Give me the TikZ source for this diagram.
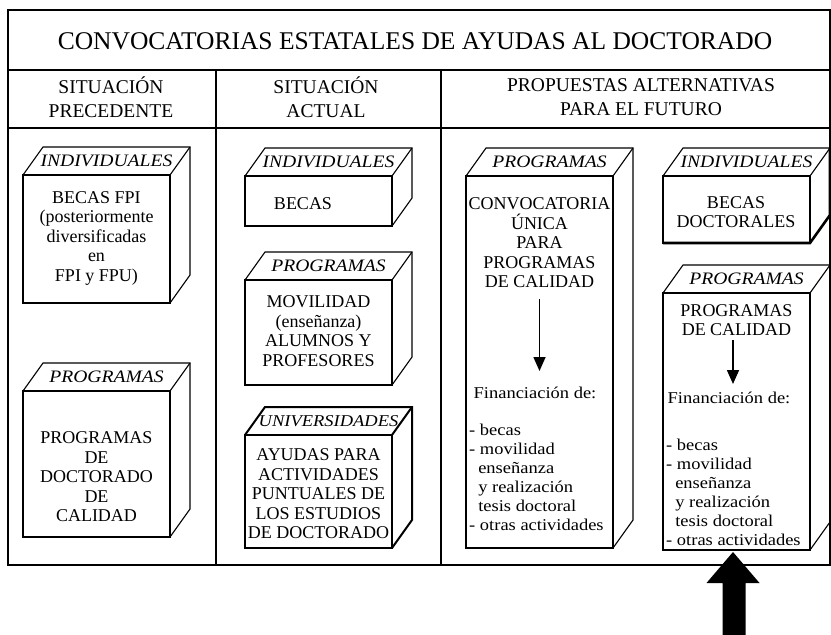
\documentclass[tikz,border=0pt]{standalone}
\usepackage{fontspec}
\setmainfont{Liberation Serif}
\newfontfamily\widefont[FakeStretch=1.12]{Liberation Serif}
\usetikzlibrary{calc,arrows.meta}
\newcommand{\dpx}{20}
\newcommand{\dpy}{28}
\newcommand{\cubebox}[7]{%
  \node[front,#7,minimum width=#4pt,minimum height=#5pt,anchor=north west] (#1) at (#2,#3) {};
  \draw[facestyle,#7] (#1.north west) -- ++(\dpx,-\dpy) -- ++(#4,0) -- ++(0,#5) -- (#1.south east);
  \draw[facestyle,#7] (#1.north east) -- ++(\dpx,-\dpy);
  \node[lbl] (#1-lbl) at ($(#1.north)+(\dpx/2,-\dpy/2)$) {#6};
}
\begin{document}
\begin{tikzpicture}[x=1pt,y=-1pt,
  front/.style={draw, line width=1.1pt, fill=white, inner sep=0pt, outer sep=0pt},
  facestyle/.style={line width=1.1pt, line join=miter},
  lbl/.style={font=\widefont\fontsize{17.5}{19}\selectfont\itshape, inner sep=0pt},
  boxtext/.style={font=\fontsize{18}{19.5}\selectfont, align=center, inner sep=0pt},
  smalltext/.style={font=\widefont\fontsize{16.5}{19}\selectfont, align=left, inner sep=0pt},
  fintext/.style={font=\widefont\fontsize{16.5}{19}\selectfont, inner sep=0pt},
  headtext/.style={font=\fontsize{19.5}{24}\selectfont, align=center, inner sep=0pt},
  titletext/.style={font=\fontsize{25.5}{28}\selectfont, inner sep=0pt},
  frameline/.style={line width=1.5pt},
  sepline/.style={line width=2.5pt},
  thickedge/.style={line width=2.6pt},
  thinarrow/.style={line width=1.6pt, -{Triangle[width=12pt,length=14pt]}},
]
\useasboundingbox (0,0) rectangle (831,635);
% frame and table lines
\draw[frameline] (8,10) rectangle (830,565);
\draw[frameline] (8,70) -- (830,70);
\draw[sepline] (8,128) -- (830,128);
\draw[sepline] (216,70) -- (216,565);
\draw[sepline] (441,70) -- (441,565);
% title and headers
\node[titletext] (title) at (415,41) {CONVOCATORIAS ESTATALES DE AYUDAS AL DOCTORADO};
\node[headtext] (h1) at (111,97) {SITUACIÓN\\PRECEDENTE};
\node[headtext] (h2) at (326,97) {SITUACIÓN\\ACTUAL};
\node[headtext] (h3) at (641,97) {PROPUESTAS ALTERNATIVAS\\PARA EL FUTURO};
% column 1
\cubebox{b1}{23}{175}{147}{128}{INDIVIDUALES}{}
\node[boxtext] (b1t) at (96.5,238) {BECAS FPI\\(posteriormente\\diversificadas\\en\\FPI y FPU)};
\cubebox{b2}{23}{391}{147}{146}{PROGRAMAS}{}
\node[boxtext] (b2t) at (96.5,477) {PROGRAMAS\\DE\\DOCTORADO\\DE\\CALIDAD};
% column 2
\cubebox{c1}{245}{176}{147}{50}{INDIVIDUALES}{}
\node[boxtext] (c1t) at (303,204) {BECAS};
\cubebox{c2}{245}{280}{147}{105}{PROGRAMAS}{}
\node[boxtext] (c2t) at (318.5,331) {MOVILIDAD\\(enseñanza)\\ALUMNOS Y\\PROFESORES};
\cubebox{c3}{245}{435}{147}{113}{\fontsize{16.5}{19}\selectfont UNIVERSIDADES}{line width=2pt}
\node[boxtext] (c3t) at (318.5,494) {AYUDAS PARA\\ACTIVIDADES\\PUNTUALES DE\\LOS ESTUDIOS\\DE DOCTORADO};
% column 3, left
\cubebox{dA}{466}{176}{147}{372}{PROGRAMAS}{}
\node[boxtext] (dAt) at (539.5,243) {CONVOCATORIA\\ÚNICA\\PARA\\PROGRAMAS\\DE CALIDAD};
\node[fintext] (dAf) at (535,393) {Financiación de:};
\coordinate (dAa) at (539.5,299);
\coordinate (dAb) at (539.5,371);
\draw[thinarrow] (dAa) -- (dAb);
\node[smalltext, anchor=west] (dAl) at (469,477) {- becas\\- movilidad\\\hspace*{0.55em}enseñanza\\\hspace*{0.55em}y realización\\\hspace*{0.55em}tesis doctoral\\- otras actividades};
% column 3, right
\cubebox{dB}{663}{176}{147}{67}{INDIVIDUALES}{}
\draw[thickedge] (dB.north east) ++(\dpx,-\dpy) -- ++(0,67) -- (dB.south east) -- (dB.south west);
\node[boxtext] (dBt) at (736,212) {BECAS\\DOCTORALES};
\cubebox{dC}{663}{293}{147}{257}{PROGRAMAS}{}
\draw[thickedge] (dC.north east) ++(\dpx,-\dpy) -- ++(0,257);
\node[boxtext] (dCt) at (736.5,320) {PROGRAMAS\\DE CALIDAD};
\node[fintext] (dCf) at (729,398) {Financiación de:};
\coordinate (dCa) at (733,340);
\coordinate (dCb) at (733,384);
\draw[thinarrow] (dCa) -- (dCb);
\node[smalltext, anchor=west] (dCl) at (666,492) {- becas\\- movilidad\\\hspace*{0.55em}enseñanza\\\hspace*{0.55em}y realización\\\hspace*{0.55em}tesis doctoral\\- otras actividades};
% big arrow pointing up at box C
\coordinate (bigtip) at ($(dC.south)+(-3.5,2)$);
\fill (bigtip) -- ++(26.5,31) -- ++(-14,0) -- ++(0,60) -- ++(-23,0) -- ++(0,-60) -- ++(-16,0) -- cycle;
\end{tikzpicture}
\end{document}
